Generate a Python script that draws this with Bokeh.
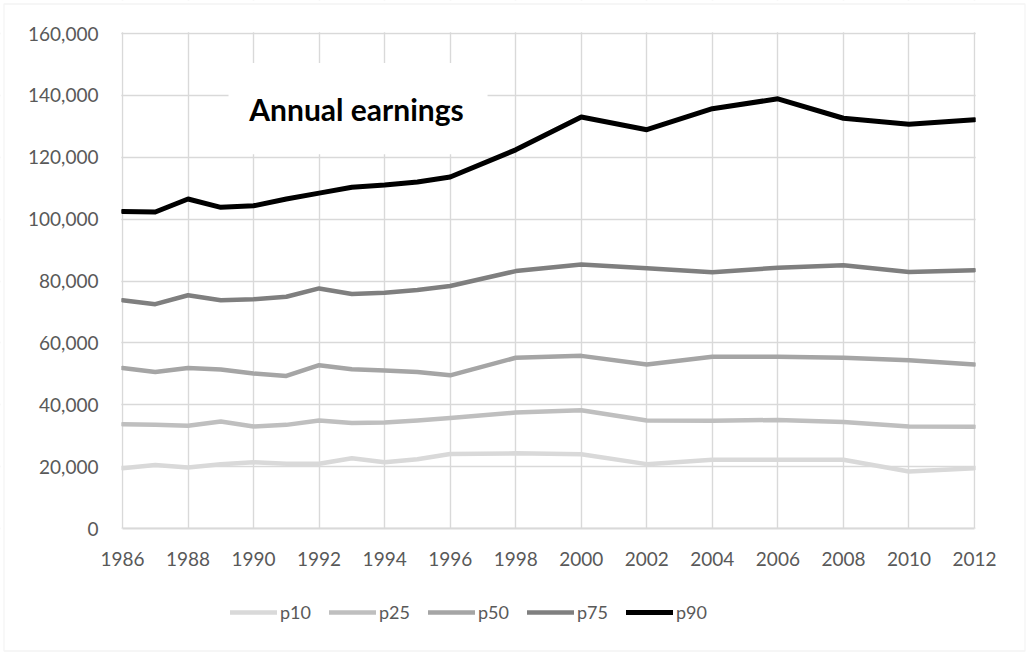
from bokeh.plotting import figure
from bokeh.models import (Range1d, FixedTicker, NumeralTickFormatter, Legend, LegendItem,
                          BoxAnnotation, Label)
from bokeh.embed import file_html
from bokeh.resources import INLINE

years = [1986, 1987, 1988, 1989, 1990, 1991, 1992, 1993, 1994, 1995, 1996,
         1998, 2000, 2002, 2004, 2006, 2008, 2010, 2012]
p10 = [19500, 20500, 19700, 20800, 21400, 20900, 20900, 22700, 21400, 22400, 24100,
       24300, 24000, 20800, 22200, 22200, 22200, 18400, 19500]
p25 = [33700, 33500, 33200, 34600, 33000, 33500, 34900, 34100, 34300, 34900, 35700,
       37500, 38200, 34900, 34800, 35100, 34400, 33000, 32900]
p50 = [51900, 50600, 51900, 51400, 50100, 49300, 52800, 51500, 51100, 50600, 49500,
       55200, 55800, 53000, 55500, 55500, 55200, 54400, 53000]
p75 = [73800, 72500, 75400, 73800, 74100, 74900, 77600, 75800, 76200, 77100, 78400,
       83200, 85300, 84100, 82800, 84300, 85100, 82900, 83500]
p90 = [102500, 102300, 106500, 103800, 104300, 106500, 108400, 110300, 111000, 112000, 113600,
       122400, 133000, 128900, 135700, 138900, 132600, 130700, 132100]

series_names = ["p10", "p25", "p50", "p75", "p90"]
series_values = [p10, p25, p50, p75, p90]
series_colors = ["#d9d9d9", "#bfbfbf", "#a5a5a5", "#7f7f7f", "#000000"]
series_widths = [4.5, 4.5, 4.5, 4.5, 5]

x_ticks = list(range(1986, 2013, 2))
y_ticks = list(range(0, 160001, 20000))
title_text = "Annual earnings"

FONT = "Lato"
GRID = "#d9d9d9"
TXT = "#595959"

# layout geometry (pixels): canvas size and where the data area sits
W, H = 1026, 652
PL, PR, PT, PB = 122, 974, 33, 528
X0, X1, Y0, Y1 = x_ticks[0], x_ticks[-1], y_ticks[0], y_ticks[-1]
xs = (PR - PL) / (X1 - X0)
ys = (PB - PT) / (Y1 - Y0)
x_range = Range1d(X0 - PL / xs, X1 + (W - PR) / xs)
y_range = Range1d(Y0 - (H - PB) / ys, Y1 + PT / ys)

p = figure(width=W, height=H, output_backend="svg", toolbar_location=None,
           x_range=x_range, y_range=y_range, min_border=0)
p.outline_line_color = None
p.background_fill_color = "white"
p.border_fill_color = "white"

p.xaxis.ticker = FixedTicker(ticks=x_ticks)
p.yaxis.ticker = FixedTicker(ticks=y_ticks)
p.yaxis.formatter = NumeralTickFormatter(format="0,0")
p.xaxis.fixed_location = Y0
p.yaxis.fixed_location = X0
p.xaxis.bounds = (X0, X1)
for ax in (p.xaxis, p.yaxis):
    ax.major_tick_line_color = None
    ax.minor_tick_line_color = None
    ax.major_label_text_font = FONT
    ax.major_label_text_font_size = "19px"
    ax.major_label_text_color = TXT
p.xaxis.axis_line_color = GRID
p.xaxis.axis_line_width = 2
p.yaxis.axis_line_color = None
p.xaxis.major_label_standoff = 17
p.yaxis.major_label_standoff = 18

p.xgrid.ticker = FixedTicker(ticks=x_ticks)
p.ygrid.ticker = FixedTicker(ticks=y_ticks)
p.xgrid.grid_line_color = GRID
p.ygrid.grid_line_color = GRID
p.xgrid.grid_line_width = 1.4
p.ygrid.grid_line_width = 1.4

# mask grid lines outside the data area
px_x = 1.2 / xs
px_y = 1.2 / ys
for kw in (dict(right=X0 - px_x), dict(left=X1 + px_x), dict(top=Y0),
           dict(bottom=Y1 + px_y)):
    p.add_layout(BoxAnnotation(fill_color="white", fill_alpha=1, line_color=None,
                               level="glyph", **kw))

items = []
for name, vals, col, w in zip(series_names, series_values, series_colors, series_widths):
    r = p.line(years, vals, line_color=col, line_width=w, line_join="round", line_cap="round")
    items.append(LegendItem(label=name, renderers=[r]))

legend = Legend(items=items, orientation="horizontal", location=(230, H - 623),
                glyph_width=47, glyph_height=20, label_standoff=3, spacing=18,
                padding=0, margin=0, border_line_color=None, background_fill_alpha=0,
                label_text_font=FONT, label_text_font_size="18px", label_text_color=TXT)
p.add_layout(legend, "center")

# white title box
p.add_layout(BoxAnnotation(left=1989.235, right=1997.14, bottom=121000, top=150500,
                           fill_color="white", fill_alpha=1, line_color=None, level="annotation"))
p.add_layout(Label(x=1993.14, y=135600, text=title_text, text_align="center",
                   text_baseline="alphabetic", text_font=FONT, text_font_style="bold",
                   text_font_size="30px", text_color="black"))

# chart border
p.add_layout(BoxAnnotation(left=3.5, right=W - 1.5, top=3.5, bottom=H - 1.5,
                           left_units="canvas", right_units="canvas",
                           top_units="canvas", bottom_units="canvas",
                           fill_alpha=0, line_color=GRID, line_width=1.3))

open("out.html", "w").write(file_html(p, INLINE))
